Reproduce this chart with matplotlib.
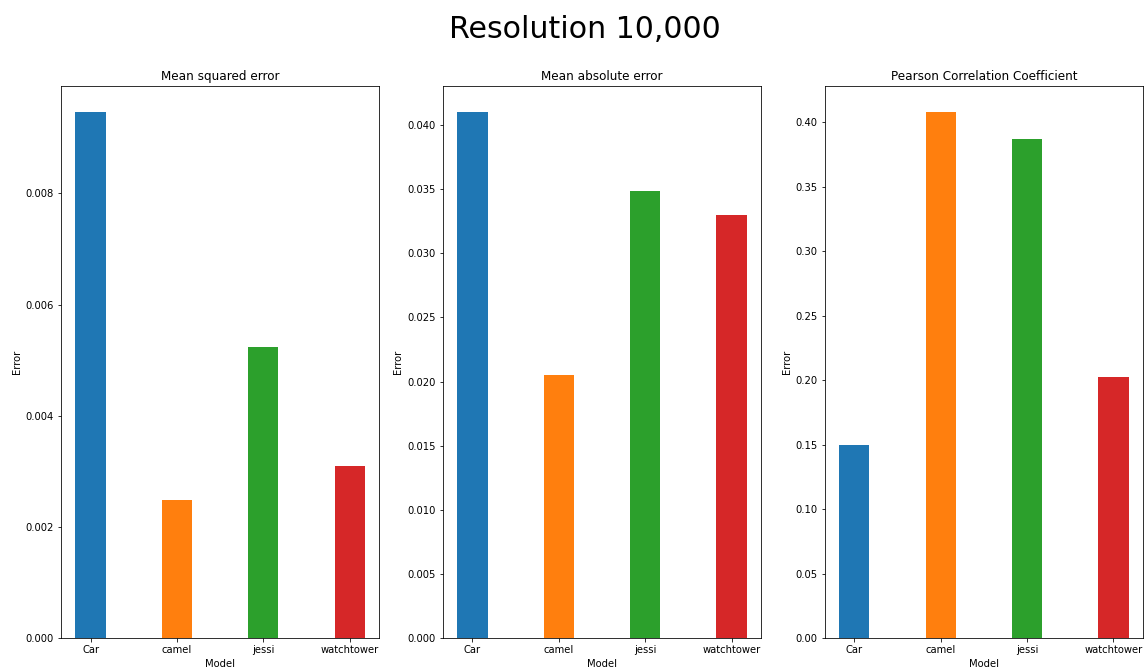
import matplotlib
matplotlib.use("Agg")
import matplotlib.pyplot as plt

models = ["Car", "camel", "jessi", "watchtower"]
mse = [0.00946, 0.00249, 0.00524, 0.00310]
mae = [0.0410, 0.02055, 0.0349, 0.0330]
pearson = [0.1499, 0.4076, 0.3866, 0.2025]
titles = ["Mean squared error", "Mean absolute error", "Pearson Correlation Coefficient"]
colors = ["#1f77b4", "#ff7f0e", "#2ca02c", "#d62728"]

dpi = 72
fig, axes = plt.subplots(1, 3, figsize=(1148 / dpi, 671 / dpi), dpi=dpi)
fig.subplots_adjust(left=61 / 1148, right=1143 / 1148, bottom=33 / 671, top=1 - 86 / 671, wspace=0.2)

for ax, vals, title in zip(axes, [mse, mae, pearson], titles):
    ax.bar(models, vals, width=0.35, color=colors)
    ax.set_title(title)
    ax.set_xlabel("Model")
    ax.set_ylabel("Error")

fig.suptitle("Resolution 10,000", fontsize=30, x=585 / 1148, y=1 - 29.5 / 671, va="center")
fig.savefig("out.png", dpi=dpi)
